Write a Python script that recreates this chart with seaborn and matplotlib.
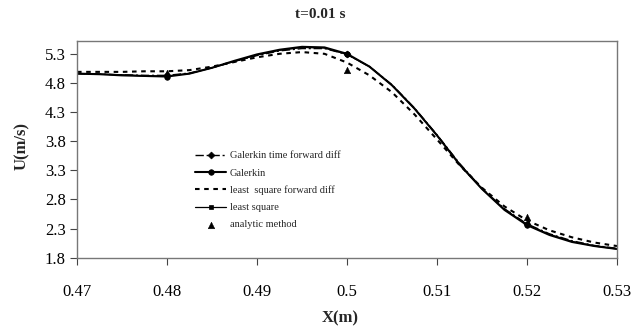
import numpy as np
import pandas as pd
import matplotlib
matplotlib.use("Agg")
import matplotlib.pyplot as plt
import seaborn as sns

x = [0.47, 0.4725, 0.475, 0.4775, 0.48, 0.4825, 0.485, 0.4875, 0.49, 0.4925,
     0.495, 0.4975, 0.5, 0.5025, 0.505, 0.5075, 0.51, 0.5125, 0.515, 0.5175,
     0.52, 0.5225, 0.525, 0.5275, 0.53]

galerkin_fwd = [4.96, 4.95, 4.94, 4.93, 4.93, 4.97, 5.06, 5.17, 5.27, 5.35,
                5.39, 5.39, 5.29, 5.08, 4.77, 4.37, 3.91, 3.42, 2.99, 2.64,
                2.38, 2.21, 2.09, 2.01, 1.96]
galerkin = [4.96, 4.95, 4.93, 4.92, 4.91, 4.96, 5.06, 5.18, 5.29, 5.37,
            5.42, 5.41, 5.30, 5.08, 4.76, 4.36, 3.90, 3.40, 2.98, 2.62,
            2.36, 2.19, 2.07, 2.00, 1.95]
ls_fwd = [4.99, 4.99, 4.99, 5.00, 5.00, 5.02, 5.08, 5.16, 5.24, 5.30,
          5.33, 5.30, 5.15, 4.93, 4.64, 4.26, 3.83, 3.39, 3.00, 2.68,
          2.44, 2.27, 2.15, 2.06, 2.00]
least_sq = [4.96, 4.95, 4.94, 4.92, 4.92, 4.96, 5.06, 5.17, 5.28, 5.36,
            5.41, 5.40, 5.29, 5.08, 4.76, 4.36, 3.90, 3.41, 2.98, 2.63,
            2.37, 2.20, 2.08, 2.00, 1.95]
analytic_x = [0.48, 0.5, 0.52]
analytic_y = [4.97, 5.03, 2.50]

x_ticks = [0.47, 0.48, 0.49, 0.5, 0.51, 0.52, 0.53]
x_tick_labels = ["0.47", "0.48", "0.49", "0.5", "0.51", "0.52", "0.53"]
y_ticks = [1.8, 2.3, 2.8, 3.3, 3.8, 4.3, 4.8, 5.3]
y_tick_labels = ["1.8", "2.3", "2.8", "3.3", "3.8", "4.3", "4.8", "5.3"]

sns.set_theme(style="white")
plt.rcParams['font.family'] = ['Liberation Serif', 'DejaVu Serif']

fig = plt.figure(figsize=(6.44, 3.30), dpi=100)
ax = fig.add_axes([77/644, 1-257.7/330, (617-77)/644, (257.7-41)/330])

df = pd.DataFrame({"x": x, "gf": galerkin_fwd, "g": galerkin, "lf": ls_fwd, "l": least_sq})
mk = [4, 12, 20]
mkw = dict(markeredgecolor="black", markerfacecolor="black", markeredgewidth=0.5)

sns.lineplot(data=df, x="x", y="gf", ax=ax, color="black", lw=1.0,
             linestyle=(0, (6, 2, 1.5, 2)), marker="D", markersize=3.5, markevery=mk,
             label="Galerkin time forward diff", **mkw)
sns.lineplot(data=df, x="x", y="g", ax=ax, color="black", lw=1.5,
             linestyle="-", marker="o", markersize=4, markevery=mk, label="Galerkin", **mkw)
sns.lineplot(data=df, x="x", y="lf", ax=ax, color="black", lw=1.5,
             linestyle=(0, (2.2, 2.2)), marker=None, label="least  square forward diff")
sns.lineplot(data=df, x="x", y="l", ax=ax, color="black", lw=0.9,
             linestyle="-", marker="s", markersize=3.5, markevery=mk, label="least square", **mkw)
sns.scatterplot(x=analytic_x, y=analytic_y, ax=ax, color="black", marker="^", s=22,
                edgecolor="black", label="analytic method")

ax.set_xlim(0.47, 0.53)
ax.set_ylim(1.8, 5.52)
ax.set_xticks(x_ticks)
ax.set_xticklabels(x_tick_labels)
ax.set_yticks(y_ticks)
ax.set_yticklabels(y_tick_labels)
ax.tick_params(axis="both", which="both", direction="out", length=5, width=0.8,
               colors="#444444", labelcolor="black", labelsize=12,
               bottom=True, left=True, top=False, right=False)
ax.tick_params(axis="x", pad=14)
ax.tick_params(axis="y", pad=3)
for s in ax.spines.values():
    s.set_color("#777777")
    s.set_linewidth(1.0)
ax.grid(False)

ax.set_xlabel("")
ax.set_ylabel("")
fig.text(340/644, 1-318/330, "X(m)", ha="center", va="center", fontsize=12, fontweight="bold")
fig.text(22/644, 1-146/330, "U(m/s)", ha="center", va="center", rotation=90,
         fontsize=12, fontweight="bold")
fig.text(320/644, 1-15/330, "t=0.01 s", ha="center", va="center", fontsize=11, fontweight="bold")

leg = ax.legend(loc="upper left", bbox_to_anchor=(190/644, 1-146/330),
                bbox_transform=fig.transFigure, frameon=False, fontsize=7.5,
                handlelength=3.0, handletextpad=0.3, labelspacing=0.75, borderpad=0)

fig.savefig("out.png", dpi=100)
